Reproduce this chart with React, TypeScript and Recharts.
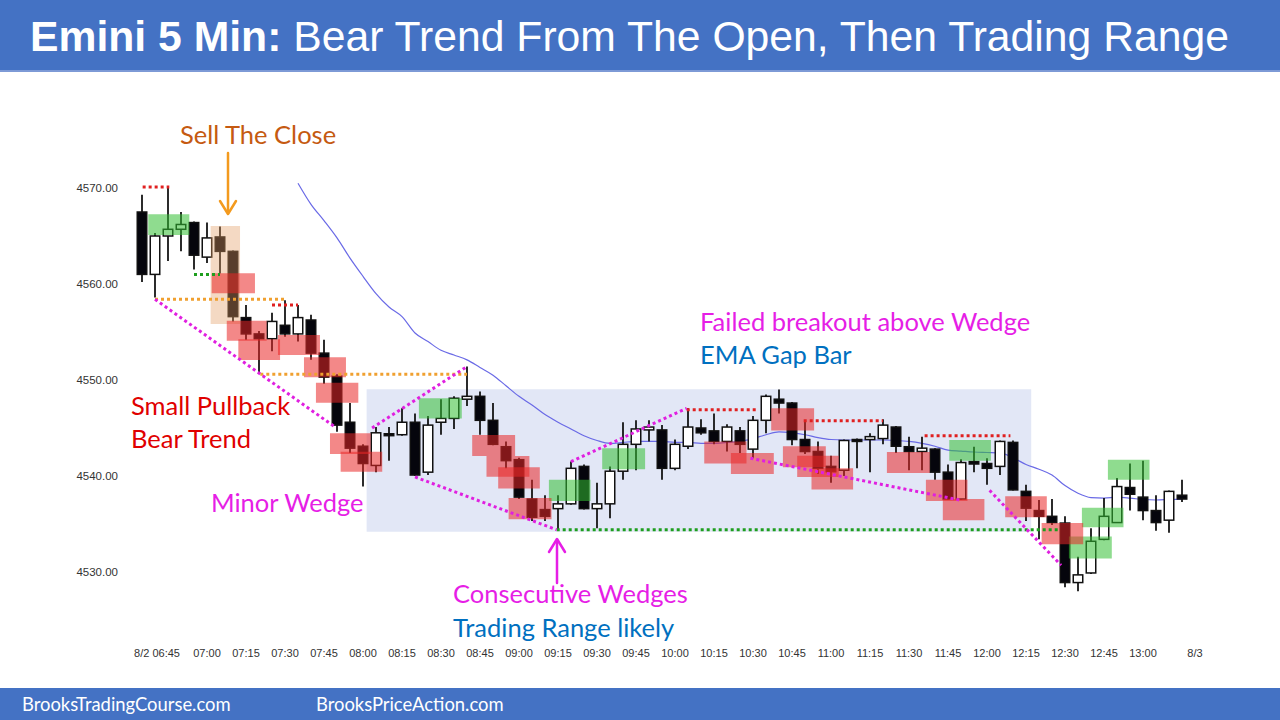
import { ComposedChart, Bar, Line, XAxis, YAxis, ReferenceArea, ReferenceLine } from "recharts";

// 5 minute bars, 8/2
const times = [
  "06:35", "06:40", "06:45", "06:50", "06:55",
  "07:00", "07:05", "07:10", "07:15", "07:20", "07:25", "07:30", "07:35", "07:40", "07:45", "07:50", "07:55",
  "08:00", "08:05", "08:10", "08:15", "08:20", "08:25", "08:30", "08:35", "08:40", "08:45", "08:50", "08:55",
  "09:00", "09:05", "09:10", "09:15", "09:20", "09:25", "09:30", "09:35", "09:40", "09:45", "09:50", "09:55",
  "10:00", "10:05", "10:10", "10:15", "10:20", "10:25", "10:30", "10:35", "10:40", "10:45", "10:50", "10:55",
  "11:00", "11:05", "11:10", "11:15", "11:20", "11:25", "11:30", "11:35", "11:40", "11:45", "11:50", "11:55",
  "12:00", "12:05", "12:10", "12:15", "12:20", "12:25", "12:30", "12:35", "12:40", "12:45", "12:50", "12:55",
  "13:00", "13:05", "13:10", "13:15",
];

const opens = [
  4567.5, 4561.0, 4565.0, 4565.7, 4566.4, 4562.8, 4564.9, 4563.4, 4556.5, 4554.8, 4554.3, 4555.7, 4554.8, 4556.25,
  4552.8, 4550.4, 4545.6, 4543.1, 4541.1, 4544.4, 4544.3, 4545.6, 4540.4, 4545.6, 4546.0, 4548.0, 4548.3, 4545.8,
  4543.05, 4541.7, 4537.6, 4536.5, 4536.6, 4537.1, 4541.0, 4536.6, 4537.1, 4540.5, 4543.3, 4544.8, 4544.8, 4540.8,
  4543.1, 4545.0, 4544.7, 4543.6, 4544.7, 4542.8, 4545.8, 4548.0, 4547.6, 4543.8, 4542.55, 4541.0, 4540.6, 4543.8,
  4543.8, 4543.9, 4545.1, 4543.05, 4542.55, 4542.8, 4540.4, 4537.6, 4541.5, 4541.3, 4541.0, 4543.5, 4538.4, 4536.4,
  4535.8, 4535.1, 4528.9, 4529.9, 4533.4, 4535.15, 4538.8, 4537.8, 4536.4, 4535.4, 4538.0,
];
const highs = [
  4569.3, 4565.3, 4570.1, 4567.5, 4566.5, 4566.4, 4566.0, 4563.5, 4557.8, 4555.1, 4557.0, 4558.3, 4557.8, 4556.8,
  4554.2, 4550.6, 4547.6, 4543.3, 4545.1, 4545.1, 4547.05, 4546.5, 4546.25, 4548.0, 4548.3, 4551.4, 4548.8, 4547.6,
  4543.6, 4541.9, 4539.6, 4538.0, 4538.0, 4541.5, 4541.2, 4539.3, 4541.0, 4545.6, 4545.8, 4545.8, 4545.3, 4543.8,
  4547.05, 4545.9, 4546.5, 4545.4, 4545.1, 4546.25, 4548.5, 4549.0, 4547.7, 4545.8, 4543.6, 4542.1, 4543.8, 4543.9,
  4544.45, 4545.9, 4545.2, 4544.1, 4544.1, 4542.9, 4541.2, 4541.75, 4543.05, 4541.85, 4543.7, 4543.7, 4539.1, 4537.5,
  4537.6, 4535.8, 4531.6, 4534.55, 4537.7, 4539.8, 4541.3, 4541.6, 4538.0, 4538.5, 4539.6,
];
const lows = [
  4560.2, 4558.6, 4562.4, 4563.4, 4561.5, 4562.2, 4561.1, 4556.1, 4554.2, 4550.7, 4553.0, 4554.5, 4554.0, 4552.1,
  4549.6, 4544.6, 4542.4, 4538.9, 4540.4, 4541.6, 4544.2, 4540.0, 4540.1, 4544.3, 4544.9, 4547.3, 4544.3, 4543.2,
  4540.8, 4537.6, 4535.3, 4535.3, 4534.4, 4537.0, 4536.5, 4534.55, 4535.6, 4539.6, 4540.6, 4543.6, 4539.6, 4540.6,
  4542.8, 4544.3, 4543.3, 4542.55, 4542.4, 4541.85, 4544.45, 4546.5, 4543.2, 4542.3, 4540.2, 4539.3, 4540.0, 4540.8,
  4540.4, 4543.3, 4542.4, 4540.6, 4540.6, 4539.6, 4537.5, 4537.5, 4540.4, 4539.1, 4540.1, 4538.5, 4535.3, 4533.4,
  4534.9, 4528.4, 4528.0, 4529.8, 4533.3, 4535.1, 4536.4, 4535.4, 4534.3, 4534.1, 4537.3,
];
const closes = [
  4561.0, 4565.0, 4565.7, 4566.2, 4563.0, 4564.8, 4563.4, 4556.6, 4554.8, 4554.3, 4556.1, 4554.8, 4556.5, 4552.8,
  4550.3, 4545.3, 4542.9, 4541.3, 4544.5, 4544.2, 4545.6, 4540.1, 4545.3, 4546.0, 4548.1, 4548.3, 4545.8, 4543.3,
  4541.6, 4537.8, 4535.7, 4535.8, 4537.1, 4540.8, 4536.6, 4537.1, 4540.5, 4543.3, 4544.9, 4545.1, 4540.8, 4543.3,
  4545.1, 4544.5, 4543.6, 4545.1, 4543.3, 4545.8, 4548.3, 4547.6, 4543.8, 4542.55, 4540.8, 4540.45, 4543.7, 4543.6,
  4544.1, 4545.3, 4543.1, 4542.55, 4542.9, 4540.4, 4537.6, 4541.4, 4541.25, 4540.8, 4543.6, 4538.55, 4536.65, 4535.8,
  4535.15, 4528.9, 4529.7, 4533.2, 4535.8, 4538.9, 4538.1, 4536.4, 4535.15, 4538.4, 4537.6,
];
// 20 bar EMA, not drawn before 07:35
const ema = [
  null, null, null, null, null, null, null, null, null, null, null, null,
  4570.5, 4568.3, 4566.6, 4564.8, 4562.7, 4560.8, 4559.0, 4557.6, 4556.6, 4554.9, 4554.0, 4553.1, 4552.6, 4552.1,
  4551.3, 4550.5, 4549.4, 4548.3, 4547.4, 4546.4, 4545.6, 4544.9, 4544.2, 4543.7, 4543.4, 4543.5, 4543.6, 4543.6,
  4543.6, 4543.5, 4543.5, 4543.4, 4543.4, 4543.5, 4543.6, 4543.9, 4544.3, 4544.6, 4544.5, 4544.3, 4544.0, 4543.8,
  4543.75, 4543.75, 4543.75, 4543.75, 4543.7, 4543.6, 4543.4, 4543.1, 4542.7, 4542.6, 4542.5, 4542.45, 4542.4,
  4541.9, 4541.2, 4540.7, 4540.1, 4539.0, 4538.2, 4537.75, 4537.7, 4537.8, 4537.7, 4537.55, 4537.5, 4537.55, 4537.6,
];

const tickTimes = [
  "06:45", "07:00", "07:15", "07:30", "07:45", "08:00", "08:15", "08:30", "08:45", "09:00", "09:15", "09:30", "09:45",
  "10:00", "10:15", "10:30", "10:45", "11:00", "11:15", "11:30", "11:45", "12:00", "12:15", "12:30", "12:45", "13:00",
];
const yTicks = [4530, 4540, 4550, 4560, 4570];

// highlight boxes: [fromBar, toBar, price1, price2]
const rangeBox = [17.28, 68.4, 4534.2, 4549.03];
const tanBoxes = [[5.28, 7.54, 4566.04, 4555.83]];
const greenBoxes = [
  [0.48, 3.64, 4567.26, 4565.1], [21.3, 24.6, 4548.1, 4546.0], [31.3, 34.5, 4539.6, 4537.4],
  [35.4, 38.7, 4542.9, 4540.7], [62.1, 65.3, 4543.75, 4541.6], [71.3, 74.6, 4533.7, 4531.4],
  [72.3, 75.5, 4536.7, 4534.65], [74.3, 77.5, 4541.7, 4539.6],
];
const redBoxes = [
  [5.36, 8.69, 4561.11, 4559.03], [6.52, 9.59, 4556.18, 4554.09], [7.41, 10.62, 4554.24, 4552.08],
  [10.46, 13.69, 4554.69, 4552.6], [12.46, 15.69, 4552.36, 4550.28], [13.38, 16.64, 4549.72, 4547.64],
  [14.46, 17.59, 4544.45, 4542.29], [15.28, 18.48, 4542.53, 4540.45], [25.4, 28.7, 4544.27, 4542.08],
  [26.5, 29.8, 4542.08, 4539.93], [27.4, 30.6, 4540.9, 4538.7], [28.2, 31.5, 4537.7, 4535.5],
  [43.25, 46.5, 4543.6, 4541.3], [45.3, 48.6, 4542.4, 4540.2], [48.4, 51.7, 4547.05, 4544.75],
  [49.3, 52.6, 4543.1, 4540.9], [50.4, 53.6, 4542.1, 4539.9], [51.5, 54.7, 4540.8, 4538.6],
  [57.3, 60.6, 4542.5, 4540.3], [60.3, 63.5, 4539.6, 4537.4], [61.6, 64.8, 4537.6, 4535.4],
  [66.4, 69.6, 4537.9, 4535.7], [69.2, 72.4, 4535.1, 4532.9],
];

// dotted levels: [fromBar, toBar, price]
const redLevels = [
  [0.05, 2.1, 4570.1], [10.0, 12.0, 4557.8], [41.9, 47.4, 4546.9], [50.9, 57.0, 4545.75], [60.2, 66.8, 4544.2],
];
const orangeLevels = [[1.0, 11.1, 4558.4], [9.1, 25.0, 4550.6]];
const greenLevels = [[4.0, 6.0, 4561.0], [31.9, 70.6, 4534.4]];
// wedge trend lines: [bar1, price1, bar2, price2]
const wedgeLines = [
  [1.0, 4558.4, 14.85, 4545.1], [17.7, 4545.0, 25.0, 4551.4], [21.0, 4539.9, 31.9, 4534.4],
  [33.0, 4541.5, 41.9, 4547.05], [46.8, 4541.85, 62.9, 4537.5], [65.2, 4538.5, 70.7, 4530.7],
];

const rows = times.map((t, i) => ({ i, t, o: opens[i], h: highs[i], l: lows[i], c: closes[i], ema: ema[i] }));
const xTicks = [...tickTimes.map((t) => times.indexOf(t)), times.length];

const blue = "#4472c4";
const axisFont = "'Liberation Sans', Arial, sans-serif";
const noteFont = "Lato, 'Open Sans', sans-serif";

function Candle(props: any) {
  const { x, y, width, height, payload } = props;
  if (!payload || height == null) return null;
  const { o, h, l, c } = payload;
  const ppu = Math.abs(height) / (h - l);
  const top = y + (h - Math.max(o, c)) * ppu;
  const bot = y + (h - Math.min(o, c)) * ppu;
  const cx = x + width / 2;
  const bull = c > o;
  return (
    <g>
      <line x1={cx} x2={cx} y1={y} y2={y + Math.abs(height)} stroke="#151515" strokeWidth={1.8} />
      <rect x={x + 0.75} y={top} width={width - 1.5} height={Math.max(bot - top, 1.5)}
        fill={bull ? "#fff" : "#05050c"} stroke="#111" strokeWidth={1.5} />
    </g>
  );
}

function TimeTick(props: any) {
  const { x, y, payload } = props;
  const i = payload.value;
  let label = times[i] ?? "8/3";
  let dx = 0;
  if (i === xTicks[0]) { label = "8/2 " + label; dx = -11; }
  return (
    <text x={x + dx} y={y + 22.6} textAnchor="middle" fontSize={11} fill="#333" fontFamily={axisFont}>{label}</text>
  );
}

const dotted = { strokeDasharray: "3 3", strokeWidth: 3 };

export default function App() {
  return (
    <div style={{ position: "fixed", left: 0, top: 0, width: 1280, height: 720, background: "#fff", overflow: "hidden" }}>
      <ComposedChart width={1280} height={720} data={rows}
        margin={{ top: 120.8, right: 78.5, bottom: 55.6, left: 0 }}
        style={{ position: "absolute", left: 0, top: 0 }}>
        <XAxis dataKey="i" type="number" domain={[-0.5, 81.5]} ticks={xTicks} interval={0}
          axisLine={false} tickLine={false} tickSize={0} tickMargin={0} tick={<TimeTick />} allowDataOverflow />
        <YAxis type="number" domain={[4523.5, 4577]} ticks={yTicks} interval={0} width={135.5}
          axisLine={false} tickLine={false} tickSize={0} tickMargin={17.5} allowDataOverflow
          tickFormatter={(v: number) => v.toFixed(2)}
          tick={{ fontSize: 11.5, fill: "#333", fontFamily: axisFont }} />

        <ReferenceArea x1={rangeBox[0]} x2={rangeBox[1]} y1={rangeBox[2]} y2={rangeBox[3]}
          fill="#e2e7f6" fillOpacity={1} stroke="none" zIndex={50} />

        <Line dataKey="ema" type="monotone" stroke="#6a6ae6" strokeWidth={1.2} dot={false}
          isAnimationActive={false} zIndex={250} />
        <Bar dataKey={(d: any) => [d.l, d.h]} barSize={11} shape={Candle} isAnimationActive={false} zIndex={300} />

        {tanBoxes.map((b, k) => (
          <ReferenceArea key={"t" + k} x1={b[0]} x2={b[1]} y1={b[2]} y2={b[3]}
            fill="#e39a60" fillOpacity={0.38} stroke="none" zIndex={350} />
        ))}
        {greenBoxes.map((b, k) => (
          <ReferenceArea key={"g" + k} x1={b[0]} x2={b[1]} y1={b[2]} y2={b[3]}
            fill="#33c033" fillOpacity={0.55} stroke="none" zIndex={350} />
        ))}
        {redBoxes.map((b, k) => (
          <ReferenceArea key={"r" + k} x1={b[0]} x2={b[1]} y1={b[2]} y2={b[3]}
            fill="#ea2727" fillOpacity={0.55} stroke="none" zIndex={350} />
        ))}

        {redLevels.map((s, k) => (
          <ReferenceLine key={"rl" + k} segment={[{ x: s[0], y: s[2] }, { x: s[1], y: s[2] }]}
            stroke="#e02020" {...dotted} zIndex={450} />
        ))}
        {orangeLevels.map((s, k) => (
          <ReferenceLine key={"ol" + k} segment={[{ x: s[0], y: s[2] }, { x: s[1], y: s[2] }]}
            stroke="#f0a030" {...dotted} zIndex={450} />
        ))}
        {greenLevels.map((s, k) => (
          <ReferenceLine key={"gl" + k} segment={[{ x: s[0], y: s[2] }, { x: s[1], y: s[2] }]}
            stroke="#1e9e1e" {...dotted} zIndex={450} />
        ))}
        {wedgeLines.map((s, k) => (
          <ReferenceLine key={"w" + k} segment={[{ x: s[0], y: s[1] }, { x: s[2], y: s[3] }]}
            stroke="#e020e0" {...dotted} zIndex={450} />
        ))}
      </ComposedChart>

      <div style={{ position: "absolute", left: 0, top: 0, width: 1280, height: 70, background: blue, borderBottom: "2px solid #7d9ad6" }} />
      <div style={{ position: "absolute", left: 0, top: 688, width: 1280, height: 32, background: blue }} />

      <svg width={1280} height={720} style={{ position: "absolute", left: 0, top: 0, pointerEvents: "none" }}>
        <text x={30} y={51} fontSize={42.7} fill="#fff" fontFamily={axisFont}>
          <tspan fontWeight="bold">Emini 5 Min:</tspan> Bear Trend From The Open, Then Trading Range
        </text>
        <text x={22} y={711} fontSize={18.4} fill="#fff" fontFamily={noteFont}>BrooksTradingCourse.com</text>
        <text x={316} y={711} fontSize={18.4} fill="#fff" fontFamily={noteFont}>BrooksPriceAction.com</text>

        <g fontFamily={noteFont} fontSize={25.5}>
          <text x={180} y={144} fill="#c55a11">Sell The Close</text>
          <text x={131} y={415} fill="#e00000">Small Pullback</text>
          <text x={131} y={448} fill="#e00000">Bear Trend</text>
          <text x={211} y={512} fill="#e61ee6">Minor Wedge</text>
          <text x={700} y={331} fill="#e61ee6">Failed breakout above Wedge</text>
          <text x={700} y={364} fill="#0070c0">EMA Gap Bar</text>
          <text x={453} y={603} fill="#e61ee6">Consecutive Wedges</text>
          <text x={453} y={637} fill="#0070c0">Trading Range likely</text>
        </g>

        <g stroke="#f39a1e" strokeWidth={2.5} fill="none" strokeLinecap="round" strokeLinejoin="round">
          <line x1={228} y1={153} x2={228} y2={213} />
          <polyline points="220,201 228,214 236,201" />
        </g>
        <g stroke="#e61ee6" strokeWidth={2.5} fill="none" strokeLinecap="round" strokeLinejoin="round">
          <line x1={557} y1={583} x2={557} y2={540} />
          <polyline points="549,552 557,539 565,552" />
        </g>
      </svg>
    </div>
  );
}
